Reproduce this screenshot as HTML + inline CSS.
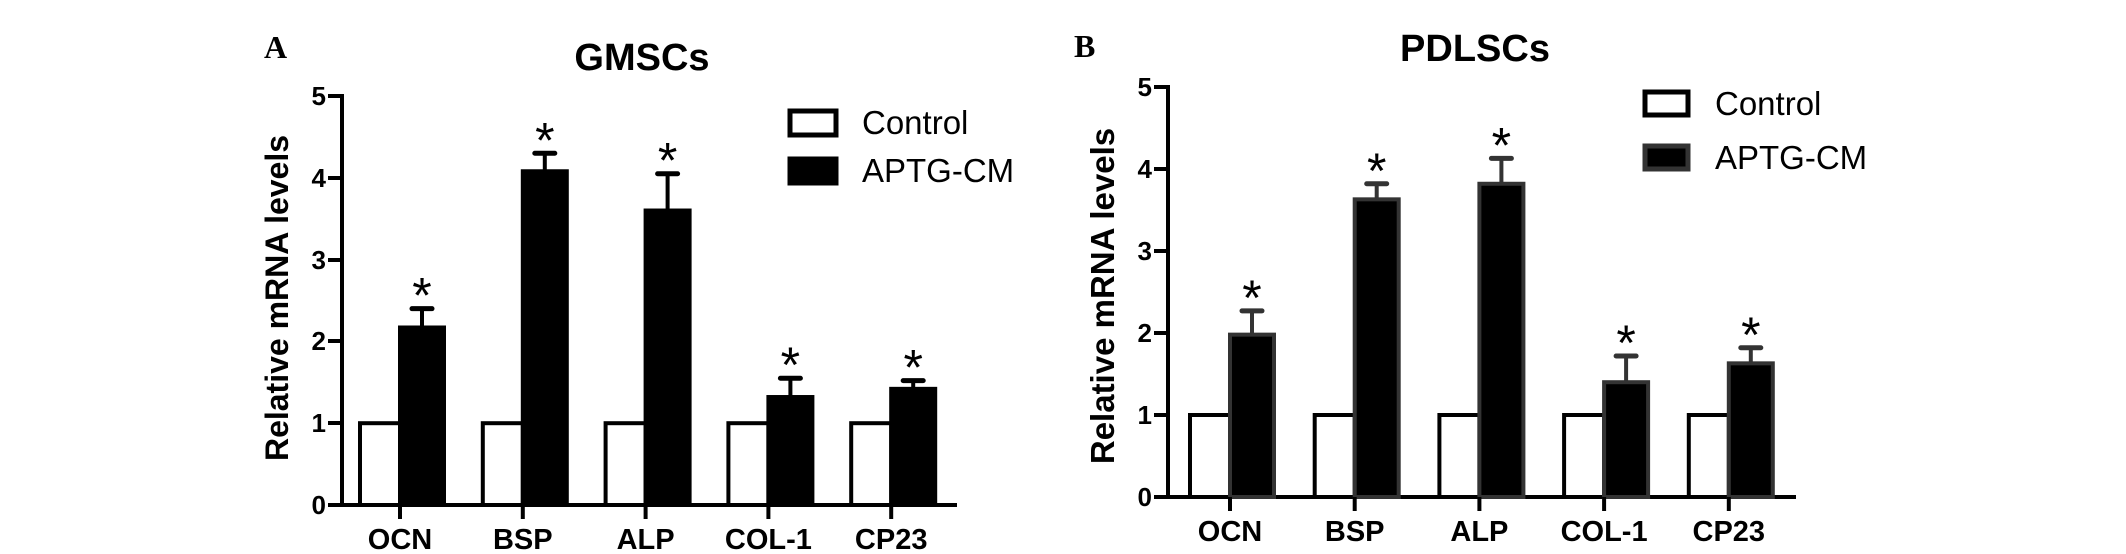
<!DOCTYPE html>
<html><head><meta charset="utf-8"><style>
html,body{margin:0;padding:0;background:#fff}
svg{display:block}
text{font-family:"Liberation Sans",Arial,sans-serif}
</style></head><body>
<svg width="2126" height="554" viewBox="0 0 2126 554" xmlns="http://www.w3.org/2000/svg">
<text x="264" y="58" font-weight="bold" font-size="32" style="font-family:'Liberation Serif',serif">A</text>
<text x="642" y="70" font-weight="bold" font-size="38" text-anchor="middle">GMSCs</text>
<text transform="translate(288,298) rotate(-90)" font-weight="bold" font-size="32" text-anchor="middle">Relative mRNA levels</text>
<g stroke="#000" stroke-width="4" fill="none">
<line x1="342" y1="94" x2="342" y2="507"/>
<line x1="328" y1="505" x2="957" y2="505"/>
<line x1="328" y1="96" x2="342" y2="96"/>
<line x1="328" y1="178" x2="342" y2="178"/>
<line x1="328" y1="260" x2="342" y2="260"/>
<line x1="328" y1="341" x2="342" y2="341"/>
<line x1="328" y1="423" x2="342" y2="423"/>
</g>
<g font-weight="bold" font-size="26" text-anchor="end">
<text x="326" y="105">5</text><text x="326" y="187">4</text><text x="326" y="269">3</text><text x="326" y="350">2</text><text x="326" y="432">1</text><text x="326" y="514">0</text>
</g>
<g id="barsA"></g>
<text x="1074" y="57" font-weight="bold" font-size="32" style="font-family:'Liberation Serif',serif">B</text>
<text x="1475" y="61" font-weight="bold" font-size="38" text-anchor="middle">PDLSCs</text>
<text transform="translate(1114,296) rotate(-90)" font-weight="bold" font-size="33" text-anchor="middle">Relative mRNA levels</text>
<g stroke="#000" stroke-width="4" fill="none">
<line x1="1168" y1="85" x2="1168" y2="499"/>
<line x1="1154" y1="497" x2="1796" y2="497"/>
<line x1="1154" y1="87" x2="1168" y2="87"/>
<line x1="1154" y1="169" x2="1168" y2="169"/>
<line x1="1154" y1="251" x2="1168" y2="251"/>
<line x1="1154" y1="333" x2="1168" y2="333"/>
<line x1="1154" y1="415" x2="1168" y2="415"/>
</g>
<g font-weight="bold" font-size="26" text-anchor="end">
<text x="1152" y="96">5</text><text x="1152" y="178">4</text><text x="1152" y="260">3</text><text x="1152" y="342">2</text><text x="1152" y="424">1</text><text x="1152" y="506">0</text>
</g>
<g id="barsB"></g>
<rect x="790" y="111" width="46" height="24" fill="#fff" stroke="#000" stroke-width="5"/>
<rect x="790" y="159" width="46" height="24" fill="#000" stroke="#000" stroke-width="5"/>
<text x="862" y="134" font-size="33">Control</text>
<text x="862" y="182" font-size="33">APTG-CM</text>
<rect x="1645" y="92" width="43" height="23" fill="#fff" stroke="#000" stroke-width="5"/>
<rect x="1645" y="146" width="43" height="23" fill="#000" stroke="#333" stroke-width="5"/>
<text x="1715" y="115" font-size="33">Control</text>
<text x="1715" y="169" font-size="33">APTG-CM</text>
</svg>
<script>
function draw(gid,x0,pitch,zero,unit,vals,edge,labels){
 const g=document.getElementById(gid);let s='';
 vals.forEach((v,i)=>{const x=x0+i*pitch;const c=x+40;
  const y1=zero-unit,yv=zero-unit*v[0],ye=zero-unit*v[1];
  s+=`<rect x="${x}" y="${y1}" width="40" height="${zero-y1}" fill="#fff" stroke="#000" stroke-width="4"/>`;
  s+=`<line x1="${c+22}" y1="${yv}" x2="${c+22}" y2="${ye}" stroke="${edge}" stroke-width="4"/>`;
  s+=`<line x1="${c+12}" y1="${ye}" x2="${c+32}" y2="${ye}" stroke="${edge}" stroke-width="5" stroke-linecap="round"/>`;
  s+=`<rect x="${c}" y="${yv}" width="44" height="${zero-yv}" fill="#000" stroke="${edge}" stroke-width="4"/>`;
  s+=`<text x="${c+22}" y="${ye+4}" font-size="50" text-anchor="middle">*</text>`;
  s+=`<line x1="${c}" y1="${zero}" x2="${c}" y2="${zero+14}" stroke="#000" stroke-width="4"/>`;
  s+=`<text x="${c}" y="${zero+44}" font-size="29" font-weight="bold" text-anchor="middle">${labels[i]}</text>`;
 });
 g.outerHTML=`<g>${s}</g>`;
}
const L=['OCN','BSP','ALP','COL-1','CP23'];
draw('barsA',360,122.8,505,81.8,[[2.17,2.4],[4.08,4.3],[3.6,4.05],[1.32,1.55],[1.42,1.52]],'#000',L);
draw('barsB',1190,124.7,497,82,[[1.98,2.27],[3.63,3.82],[3.82,4.13],[1.4,1.72],[1.63,1.82]],'#333',L);
</script>
</body></html>
